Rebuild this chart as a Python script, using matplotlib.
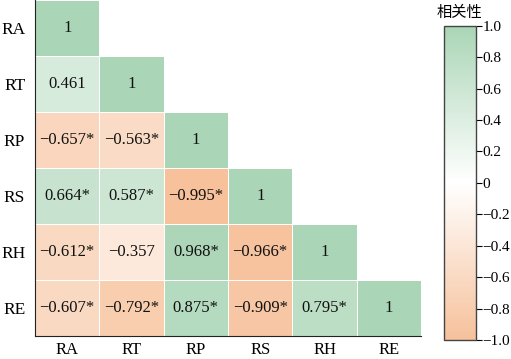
import numpy as np
import matplotlib
matplotlib.use("Agg")
import matplotlib.pyplot as plt
from matplotlib.colors import LinearSegmentedColormap

# ── Data ─────────────────────────────────────────────────────────────
labels = ["RA", "RT", "RP", "RS", "RH", "RE"]

# lower-triangle correlation values, row by row
row_RA = [1]
row_RT = [0.461, 1]
row_RP = [-0.657, -0.563, 1]
row_RS = [0.664, 0.587, -0.995, 1]
row_RH = [-0.612, -0.357, 0.968, -0.966, 1]
row_RE = [-0.607, -0.792, 0.875, -0.909, 0.795, 1]

# significance marks (*), same shape
sig_RA = [False]
sig_RT = [False, False]
sig_RP = [True, True, False]
sig_RS = [True, True, True, False]
sig_RH = [True, False, True, True, False]
sig_RE = [True, True, True, True, True, False]

cbar_ticks = [1.0, 0.8, 0.6, 0.4, 0.2, 0, -0.2, -0.4, -0.6, -0.8, -1.0]
cbar_ticklabels = ["1.0", "0.8", "0.6", "0.4", "0.2", "0",
                   "\u22120.2", "\u22120.4", "\u22120.6", "\u22120.8", "\u22121.0"]

# ── Build matrix ─────────────────────────────────────────────────────
rows = [row_RA, row_RT, row_RP, row_RS, row_RH, row_RE]
sigs = [sig_RA, sig_RT, sig_RP, sig_RS, sig_RH, sig_RE]
n = len(labels)
mat = np.full((n, n), np.nan)
for i, r in enumerate(rows):
    mat[i, :len(r)] = r
mat = np.ma.masked_invalid(mat)

cmap = LinearSegmentedColormap.from_list(
    "corr", ["#f6c19b", "#ffffff", "#aad5b6"])

plt.rcParams["font.family"] = ["Liberation Serif", "Noto Sans CJK SC"]

fig = plt.figure(figsize=(5.11, 3.59), dpi=100)
ax = fig.add_axes([0.0685, 0.064, 0.7555, 0.936])
cax = fig.add_axes([0.868, 0.053, 0.063, 0.875])

mesh = ax.pcolormesh(np.arange(n + 1), np.arange(n + 1), mat, cmap=cmap,
                     vmin=-1, vmax=1, edgecolor="white", linewidth=0.5)
ax.set_xlim(0, n)
ax.set_ylim(n, 0)

for i, r in enumerate(rows):
    for j, v in enumerate(r):
        if v == 1:
            txt = "1"
        else:
            txt = f"{v:.3f}".replace("-", "\u2212")
            if sigs[i][j]:
                txt += "*"
        ax.text(j + 0.5, i + 0.5, txt, ha="center", va="center",
                fontsize=12, color="#111111")

ax.set_xticks(np.arange(n) + 0.5)
ax.set_xticklabels(labels, fontsize=12)
ax.set_yticks(np.arange(n) + 0.5)
ax.set_yticklabels(labels, fontsize=12.5)
ax.tick_params(axis="x", length=0, pad=4)
ax.tick_params(axis="y", length=0, pad=7)
ax.spines[["top", "right"]].set_visible(False)
ax.spines["left"].set_color("#222222")
ax.spines["bottom"].set_color("#222222")

cb = fig.colorbar(mesh, cax=cax)
cb.set_ticks(cbar_ticks)
cb.set_ticklabels(cbar_ticklabels)
cb.ax.tick_params(labelsize=11, length=4, width=0.8, pad=1)
cb.outline.set_edgecolor("#444444")
cb.outline.set_linewidth(1.0)
fig.text(0.899, 0.965, "相关性", ha="center", va="center", fontsize=11,
         family=["Noto Sans CJK SC", "DejaVu Sans"])

fig.savefig("out.png", dpi=100, facecolor="white")
